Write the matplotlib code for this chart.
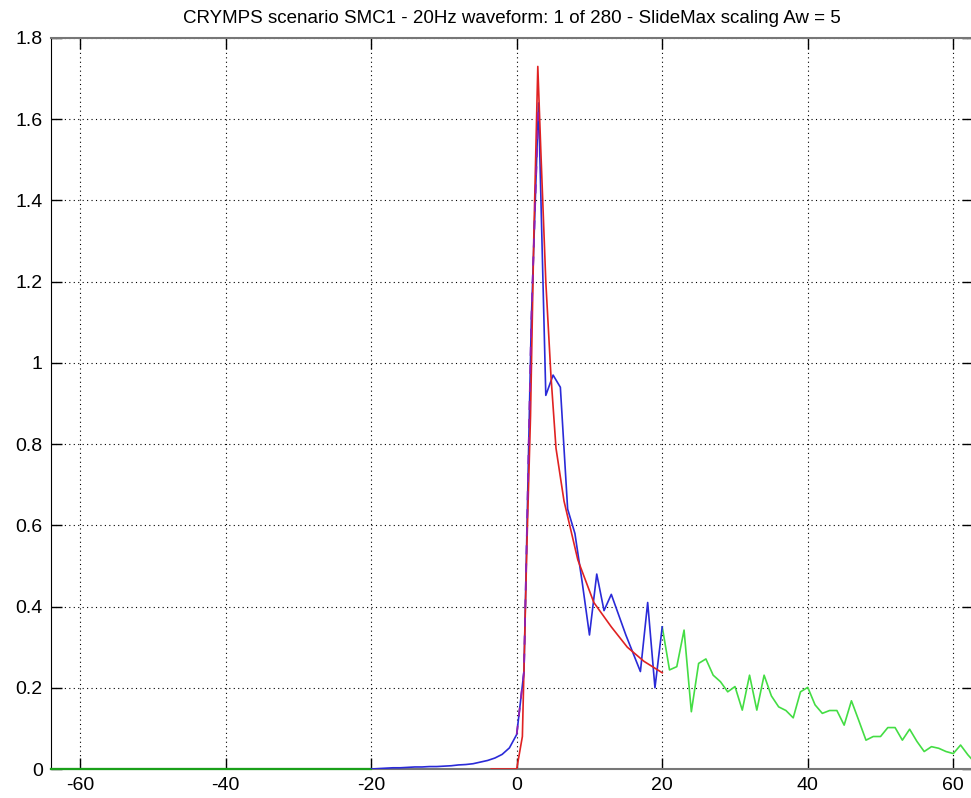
import numpy as np
import matplotlib
matplotlib.use("Agg")
import matplotlib.pyplot as plt

# waveform samples
blue_x = list(range(-20, 21))
blue_y = [0.000, 0.001, 0.002, 0.003, 0.003, 0.004, 0.005, 0.005, 0.006, 0.006,
          0.007, 0.008, 0.010, 0.011, 0.013, 0.017, 0.021, 0.027, 0.036, 0.052,
          0.085, 0.24, 1.10, 1.64, 0.92, 0.97, 0.94, 0.64, 0.58, 0.46,
          0.33, 0.48, 0.39, 0.43, 0.38, 0.33, 0.285, 0.24, 0.41, 0.20, 0.35]

# fitted envelope
red_x = [-3.5, 0.0, 0.78, 1.4, 1.9, 2.35, 2.9, 3.3, 4.0, 4.7, 5.4, 6.5,
         8.4, 10.6, 13.0, 15.2, 17.5, 20.0]
red_y = [0.0, 0.0, 0.08, 0.55, 0.87, 1.31, 1.73, 1.53, 1.20, 0.97, 0.79, 0.66,
         0.515, 0.41, 0.35, 0.30, 0.265, 0.237]

# rising edge, dashed overlay
dash_x = [0, 1, 2, 3]
dash_y = [0.085, 0.24, 1.10, 1.64]

# tail / padding
green_left_x = [-64, -20]
green_left_y = [0.0, 0.0]
green_x = list(range(20, 64))
green_y = [0.35, 0.244, 0.252, 0.342, 0.141, 0.26, 0.271, 0.231, 0.215, 0.19,
           0.203, 0.145, 0.231, 0.145, 0.231, 0.18, 0.153, 0.144, 0.126, 0.19,
           0.201, 0.158, 0.137, 0.144, 0.144, 0.108, 0.168, 0.12, 0.071, 0.080,
           0.080, 0.102, 0.102, 0.071, 0.098, 0.068, 0.043, 0.055, 0.051, 0.043,
           0.038, 0.059, 0.035, 0.015]

xticks = [-60, -40, -20, 0, 20, 40, 60]
yticks = [0, 0.2, 0.4, 0.6, 0.8, 1, 1.2, 1.4, 1.6, 1.8]
ytick_labels = ["0", "0.2", "0.4", "0.6", "0.8", "1", "1.2", "1.4", "1.6", "1.8"]

plt.rcParams["font.family"] = ["Liberation Sans", "DejaVu Sans"]
plt.rcParams["axes.unicode_minus"] = False

fig = plt.figure(figsize=(9.71, 7.98), dpi=100)
ax = fig.add_axes([51 / 971, 1 - 769 / 798, 1.002 - 51 / 971, (769 - 38) / 798])

ax.plot(green_left_x, green_left_y, color="#1aa01a", lw=1.6, zorder=3, clip_on=False)
ax.plot(green_x, green_y, color="#44dd44", lw=1.2, zorder=3)
ax.plot(blue_x, blue_y, color="#2a2ad8", lw=1.2, zorder=3)
ax.plot(red_x, red_y, color="#e02222", lw=1.2, zorder=3)
ax.plot(dash_x, dash_y, color="#9020b0", lw=1.3, ls=(0, (5, 5)), zorder=3)

ax.set_xlim(-64, 62.7)
ax.set_ylim(0, 1.8)
ax.set_xticks(xticks)
ax.set_yticks(yticks)
ax.set_yticklabels(ytick_labels)
ax.tick_params(direction="in", length=8, width=1, labelsize=14, pad=6,
               top=True, right=True)
ax.grid(True, color="black", ls=(0, (1, 3)), lw=0.8)
for s in ["top", "bottom"]:
    ax.spines[s].set_color("#777777")
    ax.spines[s].set_linewidth(1.5)
ax.spines["left"].set_color("black")

ax.set_title("CRYMPS scenario SMC1 - 20Hz waveform: 1 of 280 - SlideMax scaling Aw = 5",
             fontsize=13.5, pad=11)

fig.savefig("out.png", dpi=100)
